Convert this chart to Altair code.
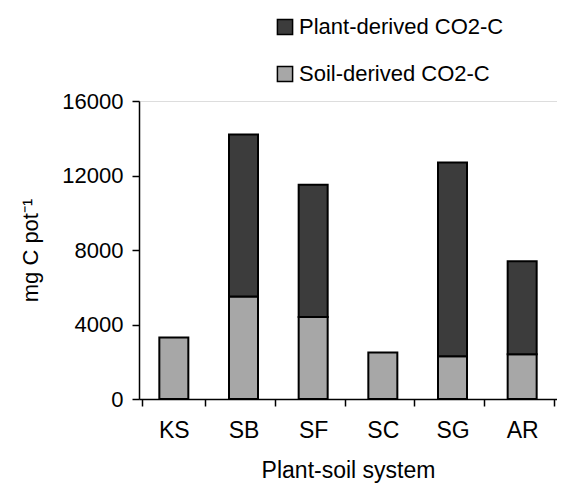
import altair as alt
import pandas as pd

systems = ["KS", "SB", "SF", "SC", "SG", "AR"]
soil = [3300, 5500, 4400, 2500, 2300, 2400]
plant = [0, 8700, 7100, 0, 10400, 5000]
series = ["Plant-derived CO2-C", "Soil-derived CO2-C"]
colors = ["#3c3c3c", "#a7a7a7"]

rows = []
for s, so, pl in zip(systems, soil, plant):
    rows.append({"system": s, "source": series[1], "value": so, "ord": 0})
    rows.append({"system": s, "source": series[0], "value": pl, "ord": 1})
df = pd.DataFrame(rows)

FONT = "Liberation Sans"

chart = alt.Chart(df).transform_filter("datum.value > 0").mark_bar(
    size=29, stroke="black", strokeWidth=2
).encode(
    x=alt.X("system:N", sort=systems, title="Plant-soil system",
            axis=alt.Axis(labelAngle=0, tickBand="extent", tickSize=7,
                          tickColor="black", domainColor="black", tickWidth=1.5,
                          domainWidth=1.5, labelFontSize=23, labelPadding=13,
                          titleFontSize=23, titlePadding=17, labelColor="black",
                          titleColor="black", titleFontWeight="normal")),
    y=alt.Y("value:Q", stack="zero", title="mg C pot⁻¹",
            scale=alt.Scale(domain=[0, 16000]),
            axis=alt.Axis(values=[0, 4000, 8000, 12000, 16000], grid=False,
                          format="d",
                          tickSize=7, tickColor="black", domainColor="black",
                          tickWidth=1.5, domainWidth=1.5, labelFontSize=22,
                          labelPadding=9, titleFontSize=22, titlePadding=19,
                          labelColor="black", titleColor="black",
                          titleFontWeight="normal")),
    color=alt.Color("source:N", scale=alt.Scale(domain=series, range=colors),
                    legend=alt.Legend(title=None, orient="none", legendX=135,
                                      legendY=-85, symbolType="square",
                                      symbolSize=230, symbolStrokeColor="black",
                                      symbolStrokeWidth=1.5, symbolOpacity=1,
                                      labelFontSize=22, labelColor="black",
                                      labelLimit=400, rowPadding=25,
                                      labelOffset=3)),
    order=alt.Order("ord:Q", sort="ascending"),
).properties(
    width=418, height=298,
    autosize=alt.AutoSizeParams(type="none"),
    padding={"left": 131, "top": 93, "right": 0, "bottom": 84},
).configure_view(stroke=None).configure(font=FONT)

chart.save("out.html", embed_options={"renderer": "svg", "actions": False})
